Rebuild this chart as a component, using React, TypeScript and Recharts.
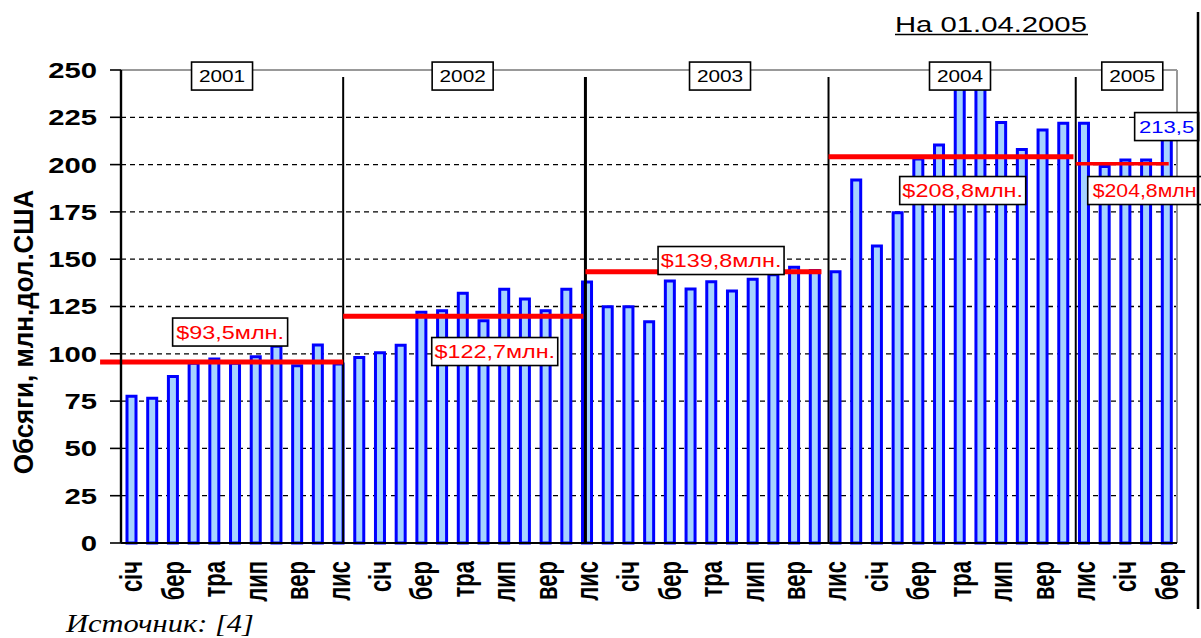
import React from 'react';
import { BarChart, Bar, XAxis, YAxis, CartesianGrid, ReferenceLine, ReferenceDot } from 'recharts';

// ---- data ----
const monthNames = ['січ', 'лют', 'бер', 'кві', 'тра', 'чер', 'лип', 'сер', 'вер', 'жов', 'лис', 'гру'];
const startYear = 2001;
// monthly volumes, Jan 2001 .. Mar 2005 (млн. дол. США)
const volumes = [
  77.5, 76.5, 88, 95, 97.3, 95, 98.5, 104, 93.7, 104.7, 94.6, 98.1,
  100.6, 104.5, 121.9, 122.8, 132, 117.5, 134.1, 129, 122.8, 134.1, 138, 124.9,
  124.9, 117, 138.5, 134.2, 138.1, 133.2, 139.4, 141.8, 145.7, 144, 143.4, 191.9,
  157, 174.6, 203, 210.4, 245, 245, 222.2, 208, 218.3, 221.8, 221.8, 199,
  202.4, 202.4, 213.5,
];
const yTicks = [0, 25, 50, 75, 100, 125, 150, 175, 200, 225, 250];
const yearLabels = ['2001', '2002', '2003', '2004', '2005'];
const yearLabelSlots = [4.88, 16.5, 28.93, 40.52, 48.84];
const yearLabelLevel = 246.8;
const separatorSlots = [10.73, 22.43, 34.17, 46.11];
const separatorTop = 246.3;
const averageLabels = ['$93,5млн.', '$122,7млн.', '$139,8млн.', '$208,8млн.', '$204,8млн'];
const averageLevels = [95.7, 119.8, 143.4, 204.2, 200.5];
const averageFrom = [-1.01, 10.73, 22.43, 34.17, 46.11];
const averageTo = [10.73, 22.33, 33.83, 46.0, 50.6];
const averageLabelSlots = [5.27, 18.05, 28.98, 40.65, 49.66];
const averageLabelLevels = [111.5, 101.2, 149.3, 186.3, 186.3];
const lastValueLabel = '213,5';
const lastValueSlot = 50.5;
const lastValueLevel = 220.1;
const slotCount = volumes.length;
const slotBoundaries = Array.from({ length: slotCount + 1 }, (_, i) => i);

const data = volumes.map((v, i) => ({
  period: `${monthNames[i % 12]} ${startYear + Math.floor(i / 12)}`,
  volume: v,
}));

const FONT = '"Liberation Sans", Arial, sans-serif';

const MonthTick = (props: any) => {
  const { x, y, payload } = props;
  const label = String(payload.value).split(' ')[0];
  return (
    <text
      transform={`translate(${x},${y + 8}) scale(1.4,1) rotate(-90)`}
      textAnchor="end"
      dy="0.36em"
      fontFamily={FONT}
      fontWeight="bold"
      fontSize={22}
      fill="#000"
    >
      {label}
    </text>
  );
};

const ValueTick = (props: any) => {
  const { x, y, payload } = props;
  return (
    <text
      transform={`translate(${x},${y}) scale(1.33,1)`}
      textAnchor="end"
      dy="0.36em"
      fontFamily={FONT}
      fontWeight="bold"
      fontSize={22}
      fill="#000"
    >
      {payload.value}
    </text>
  );
};

const boxShape = (
  text: string,
  w: number,
  h: number,
  color: string,
  fontSize: number,
  align: 'middle' | 'start' = 'middle',
  sx = 1.3,
) =>
  (props: any) => {
    const { cx, cy } = props;
    const tx = align === 'middle' ? cx : cx - w / 2 + 5;
    return (
      <g>
        <rect x={cx - w / 2} y={cy - h / 2} width={w} height={h} fill="#fff" stroke="#000" strokeWidth={1.6} />
        <text
          transform={`translate(${tx},${cy}) scale(${sx},1)`}
          textAnchor={align}
          dy="0.36em"
          fontFamily={FONT}
          fontSize={fontSize}
          fill={color}
        >
          {text}
        </text>
      </g>
    );
  };

export default function App() {
  return (
    <div style={{ position: 'absolute', left: 0, top: 0, width: 1201, height: 638, background: '#fff', overflow: 'hidden' }}>
      <BarChart
        width={1201}
        height={638}
        data={data}
        margin={{ top: 70, right: 24, left: 61, bottom: 35 }}
        barCategoryGap={0}
      >
        <CartesianGrid xAxisId="m" vertical={false} stroke="#000" strokeDasharray="5 4" strokeWidth={1.3} />
        <XAxis
          xAxisId="m"
          dataKey="period"
          interval={1}
          tick={<MonthTick />}
          tickLine={false}
          axisLine={false}
          tickSize={0}
          tickMargin={0}
          height={50}
        />
        <XAxis
          xAxisId="a"
          type="number"
          scale="linear"
          dataKey="volume"
          domain={[0, slotCount]}
          allowDataOverflow
          ticks={slotBoundaries}
          tick={false}
          tickSize={8}
          tickLine={{ stroke: '#000', strokeWidth: 1.6 }}
          axisLine={{ stroke: '#000', strokeWidth: 2.2 }}
          height={10}
        />
        <YAxis
          domain={[0, 250]}
          ticks={yTicks}
          width={60}
          tickSize={11}
          tickMargin={13}
          tick={<ValueTick />}
          tickLine={{ stroke: '#000', strokeWidth: 1.6 }}
          axisLine={{ stroke: '#000', strokeWidth: 2.4 }}
        />
        <Bar
          xAxisId="m"
          dataKey="volume"
          fill="#a6d3ff"
          stroke="#0000ff"
          strokeWidth={3}
          barSize={9}
          isAnimationActive={false}
        />
        <ReferenceLine xAxisId="a" y={250} stroke="#999" strokeWidth={2} />
        <ReferenceLine xAxisId="a" x={slotCount} stroke="#999" strokeWidth={2} />
        {separatorSlots.map((s, i) => (
          <ReferenceLine
            key={`sep${i}`}
            xAxisId="a"
            segment={[{ x: s, y: 0 }, { x: s, y: separatorTop }]}
            stroke="#000"
            strokeWidth={i === 1 ? 3 : 2}
          />
        ))}
        {averageLevels.map((lv, i) => (
          <ReferenceLine
            key={`avg${i}`}
            xAxisId="a"
            ifOverflow="visible"
            segment={[{ x: averageFrom[i], y: lv }, { x: averageTo[i], y: lv }]}
            stroke="#ff0000"
            strokeWidth={i === 4 ? 3.5 : 5}
          />
        ))}
        {yearLabels.map((t, i) => (
          <ReferenceDot
            key={`yr${i}`}
            xAxisId="a"
            x={yearLabelSlots[i]}
            y={yearLabelLevel}
            r={1}
            ifOverflow="visible"
            shape={boxShape(t, 61, 28, '#000', 16)}
          />
        ))}
        {averageLabels.map((t, i) => (
          <ReferenceDot
            key={`al${i}`}
            xAxisId="a"
            x={averageLabelSlots[i]}
            y={averageLabelLevels[i]}
            r={1}
            ifOverflow="visible"
            shape={
              i === 4
                ? boxShape(t, 123, 28, '#ff0000', 18, 'start', 1.18)
                : boxShape(t, i === 0 ? 115 : 126, 28, '#ff0000', 18)
            }
          />
        ))}
        <ReferenceDot
          xAxisId="a"
          x={lastValueSlot}
          y={lastValueLevel}
          r={1}
          ifOverflow="visible"
          shape={boxShape(lastValueLabel, 64, 28, '#0000ff', 17)}
        />
      </BarChart>
      <svg width={1201} height={638} style={{ position: 'absolute', left: 0, top: 0, pointerEvents: 'none' }}>
        <text transform="translate(895,32) scale(1.33,1)" fontFamily={FONT} fontSize={22} fill="#000">
          На 01.04.2005
        </text>
        <line x1={895} x2={1088} y1={34.5} y2={34.5} stroke="#000" strokeWidth={1.5} />
        <line x1={1198} x2={1198} y1={12} y2={609} stroke="#000" strokeWidth={2.5} />
        <text
          transform="translate(23,332) scale(1.05,1) rotate(-90)"
          textAnchor="middle"
          dy="0.36em"
          fontFamily={FONT}
          fontWeight="bold"
          fontSize={26}
          fill="#000"
        >
          Обсяги, млн.дол.США
        </text>
        <text
          transform="translate(66,632) scale(1.22,1)"
          fontFamily='"Liberation Serif", "Times New Roman", serif'
          fontStyle="italic"
          fontSize={25}
          fill="#000"
        >
          Источник: [4]
        </text>
      </svg>
    </div>
  );
}
